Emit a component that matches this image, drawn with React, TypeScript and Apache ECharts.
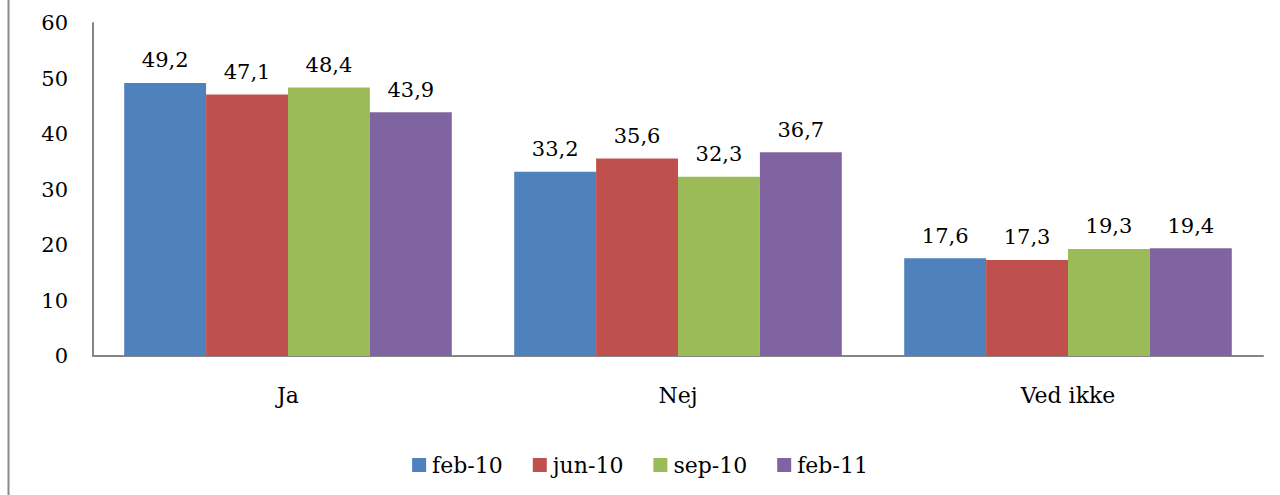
import React, { useEffect, useRef } from "react";
import * as echarts from "echarts";

const categories = ["Ja", "Nej", "Ved ikke"];
const seriesNames = ["feb-10", "jun-10", "sep-10", "feb-11"];
const feb10 = [49.2, 33.2, 17.6];
const jun10 = [47.1, 35.6, 17.3];
const sep10 = [48.4, 32.3, 19.3];
const feb11 = [43.9, 36.7, 19.4];
const colors = ["#4F81BD", "#C0504D", "#9BBB59", "#8064A2"];
const FONT = "DejaVu Serif";

export default function App() {
  const ref = useRef<HTMLDivElement>(null);
  useEffect(() => {
    const chart = echarts.init(ref.current!, null, { renderer: "svg" });
    const values = [feb10, jun10, sep10, feb11];
    chart.setOption({
      animation: false,
      textStyle: { fontFamily: FONT },
      graphic: [
        {
          type: "line",
          shape: { x1: 8.5, y1: 0, x2: 8.5, y2: 495 },
          style: { stroke: "#8a8a8a", lineWidth: 2 },
        },
      ],
      grid: { left: 93, right: 17, top: 23, bottom: 139, containLabel: false },
      legend: {
        bottom: 14,
        left: "center",
        itemWidth: 14,
        itemHeight: 14,
        itemGap: 30,
        icon: "rect",
        textStyle: { fontFamily: FONT, fontSize: 22, color: "#000", padding: [0, 0, 0, 1] },
        data: seriesNames,
      },
      xAxis: {
        type: "category",
        data: categories,
        axisLine: { lineStyle: { color: "#868686", width: 2 } },
        axisTick: { show: false },
        axisLabel: { fontFamily: FONT, fontSize: 22, color: "#000", margin: 28 },
      },
      yAxis: {
        type: "value",
        min: 0,
        max: 60,
        interval: 10,
        axisLine: { show: true, lineStyle: { color: "#868686", width: 2 } },
        axisTick: { show: false },
        splitLine: { show: false },
        axisLabel: { fontFamily: FONT, fontSize: 21, color: "#000", margin: 25 },
      },
      series: seriesNames.map((name, i) => ({
        name,
        type: "bar",
        data: values[i],
        barGap: "0%",
        barCategoryGap: "16%",
        itemStyle: { color: colors[i] },
        label: {
          show: true,
          position: "top",
          distance: 12,
          fontFamily: FONT,
          fontSize: 21,
          color: "#000",
          formatter: (p: any) => String(p.value).replace(".", ","),
        },
      })),
    });
    return () => chart.dispose();
  }, []);
  return (
    <div
      ref={ref}
      style={{ position: "fixed", left: 0, top: 0, width: 1280, height: 495, background: "#fff" }}
    />
  );
}
